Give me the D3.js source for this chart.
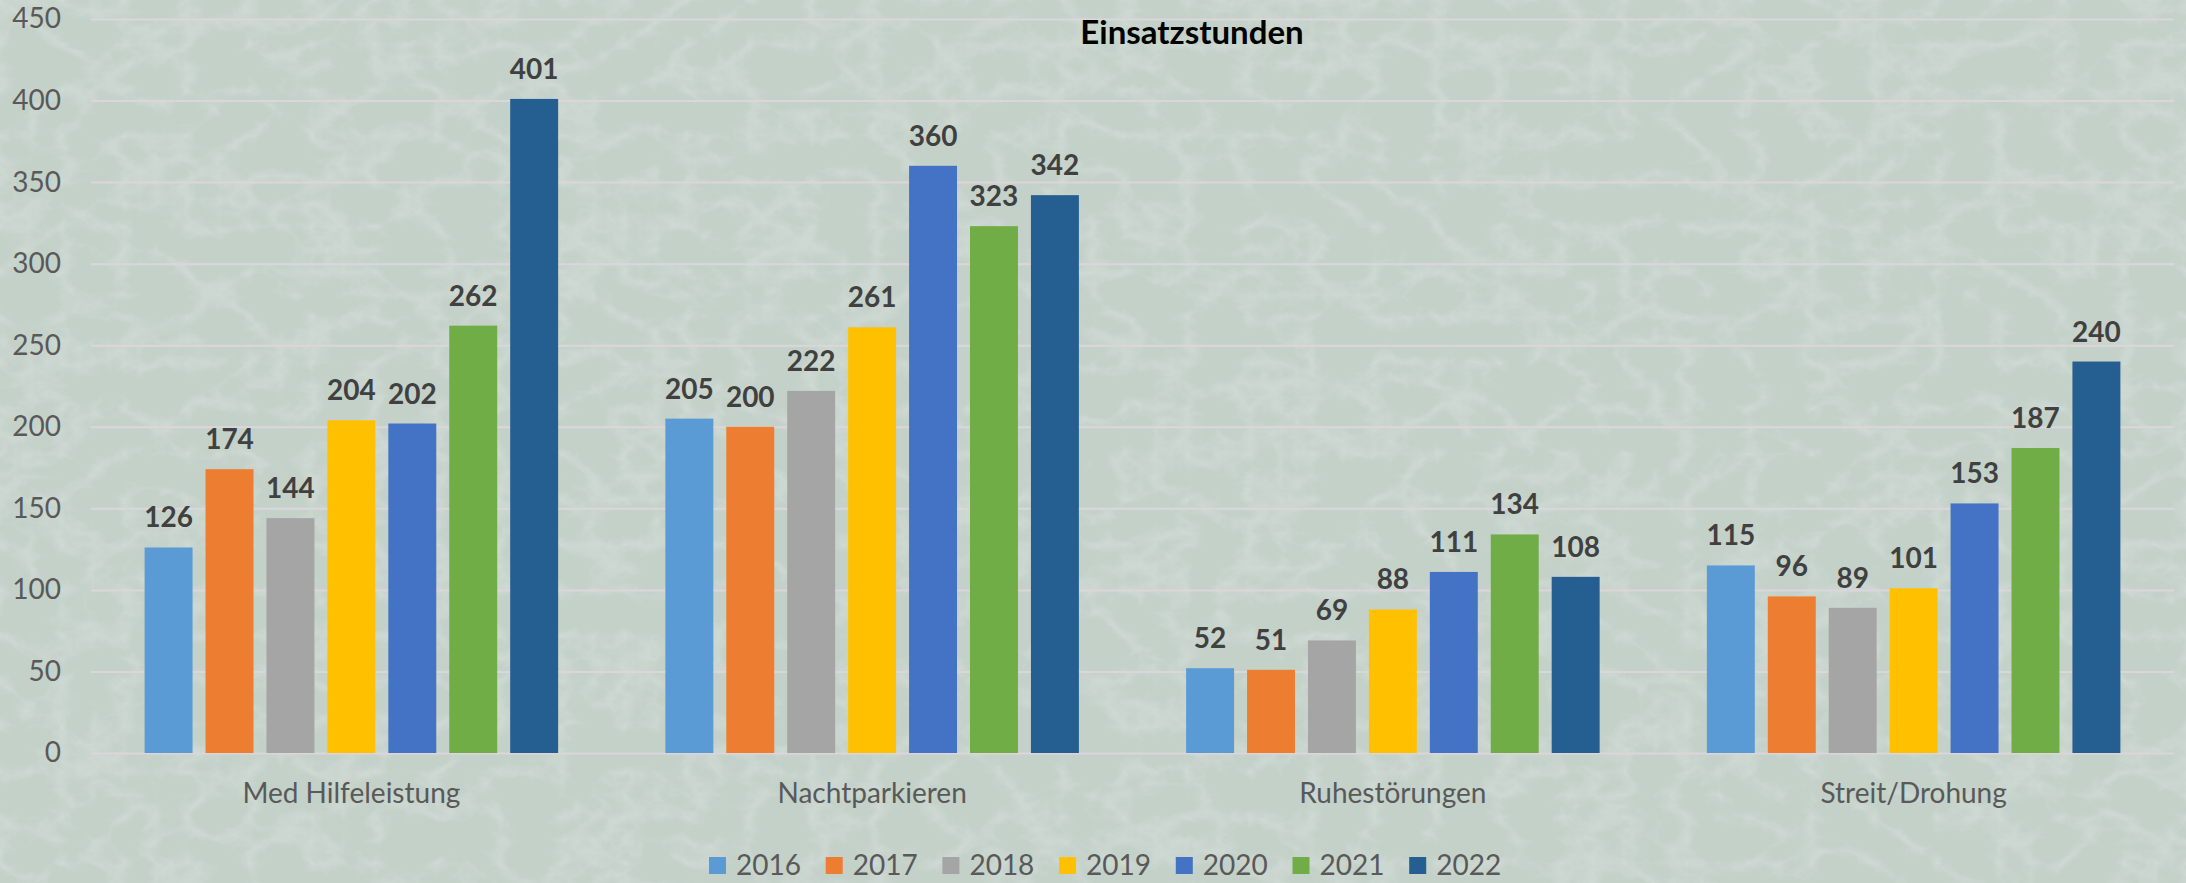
<!DOCTYPE html>
<html>
<head>
<meta charset="utf-8">
<script src="https://cdn.jsdelivr.net/npm/d3@7"></script>
<style>
    body { margin: 0; background: #c9d6ce; }
    #chart-area { width: 2186px; height: 883px; overflow: hidden; }
    text { font-family: Lato, "Open Sans", sans-serif; }
</style>
</head>
<body>
<div id="chart-area"></div>
<script>
var categories = ["Med Hilfeleistung", "Nachtparkieren", "Ruhestörungen", "Streit/Drohung"];
var years = ["2016", "2017", "2018", "2019", "2020", "2021", "2022"];
var yTicks = [0, 50, 100, 150, 200, 250, 300, 350, 400, 450];

// one array per year, same order as categories
var v2016 = [126, 205, 52, 115];
var v2017 = [174, 200, 51, 96];
var v2018 = [144, 222, 69, 89];
var v2019 = [204, 261, 88, 101];
var v2020 = [202, 360, 111, 153];
var v2021 = [262, 323, 134, 187];
var v2022 = [401, 342, 108, 240];

var colors = ["#5b9bd5", "#ed7d31", "#a5a5a5", "#ffc000", "#4472c4", "#70ad47", "#255e91"];

BarChart = function(_parentElement, _title){
    this.parentElement = _parentElement;
    this.title = _title;
    this.series = [v2016, v2017, v2018, v2019, v2020, v2021, v2022];
    this.initVis();
};

BarChart.prototype.initVis = function(){
    var vis = this;

    vis.width = 2186;
    vis.height = 883;

    vis.svg = d3.select(vis.parentElement)
        .append("svg")
        .attr("width", vis.width)
        .attr("height", vis.height);

    // marble-ish background
    var defs = vis.svg.append("defs");
    var f = defs.append("filter").attr("id", "marble")
        .attr("x", 0).attr("y", 0).attr("width", "100%").attr("height", "100%");
    f.append("feTurbulence")
        .attr("type", "turbulence")
        .attr("baseFrequency", "0.016 0.022")
        .attr("numOctaves", 5)
        .attr("seed", 3);
    f.append("feColorMatrix")
        .attr("type", "matrix")
        .attr("values", "0 0 0 0 0.88  0 0 0 0 0.93  0 0 0 0 0.90  -2.0 0 0 0 0.7");

    vis.svg.append("rect")
        .attr("width", vis.width).attr("height", vis.height)
        .attr("fill", "#c4d1c9");
    vis.svg.append("rect")
        .attr("width", vis.width).attr("height", vis.height)
        .attr("filter", "url(#marble)")
        .attr("opacity", 0.35);

    vis.plot = { left: 91, right: 2174, top: 19, bottom: 753 };

    // Scales
    vis.y = d3.scaleLinear().domain([0, 450]).range([vis.plot.bottom, vis.plot.top]);
    vis.x0 = d3.scaleBand().domain(categories).range([vis.plot.left, vis.plot.right]).padding(0);
    vis.x1 = d3.scaleBand().domain(years).range([0, vis.x0.bandwidth()])
        .paddingInner(0.213).paddingOuter(0.88);

    // Gridlines + y labels
    vis.yAxisCall = d3.axisLeft(vis.y)
        .tickValues(yTicks)
        .tickSize(-(vis.plot.right - vis.plot.left))
        .tickPadding(30);
    vis.yAxis = vis.svg.append("g")
        .attr("class", "y axis")
        .attr("transform", "translate(" + vis.plot.left + ",0)")
        .call(vis.yAxisCall);
    vis.yAxis.select(".domain").remove();
    vis.yAxis.selectAll("line").attr("stroke", "#dcd6dc").attr("stroke-width", 2);
    vis.yAxis.selectAll("text")
        .attr("fill", "#595959")
        .attr("font-size", "28px")
        .attr("font-family", "Lato");

    // Category labels
    vis.xAxisCall = d3.axisBottom(vis.x0).tickSize(0).tickPadding(30);
    vis.xAxis = vis.svg.append("g")
        .attr("class", "x axis")
        .attr("transform", "translate(0," + vis.plot.bottom + ")")
        .call(vis.xAxisCall);
    vis.xAxis.select(".domain").remove();
    vis.xAxis.selectAll("text")
        .attr("fill", "#595959")
        .attr("font-size", "28px")
        .attr("font-family", "Lato");

    // Title
    vis.svg.append("text")
        .attr("x", 1192)
        .attr("y", 44)
        .attr("text-anchor", "middle")
        .attr("font-size", "33px")
        .attr("font-weight", "bold")
        .attr("fill", "#000")
        .text(vis.title);

    vis.update();
    vis.drawLegend();
};

BarChart.prototype.update = function(){
    var vis = this;

    var groups = vis.svg.selectAll(".year")
        .data(vis.series)
        .enter().append("g")
        .attr("class", "year")
        .attr("fill", function(d, i){ return colors[i]; });

    groups.each(function(vals, i){
        var g = d3.select(this);
        var yr = years[i];

        g.selectAll("rect")
            .data(vals)
            .enter().append("rect")
            .attr("x", function(d, j){ return vis.x0(categories[j]) + vis.x1(yr); })
            .attr("y", function(d){ return vis.y(d); })
            .attr("width", vis.x1.bandwidth())
            .attr("height", function(d){ return vis.y(0) - vis.y(d); });

        g.selectAll("text")
            .data(vals)
            .enter().append("text")
            .attr("x", function(d, j){ return vis.x0(categories[j]) + vis.x1(yr) + vis.x1.bandwidth() / 2; })
            .attr("y", function(d){ return vis.y(d) - 20; })
            .attr("text-anchor", "middle")
            .attr("font-size", "28px")
            .attr("font-weight", "bold")
            .attr("fill", "#404040")
            .text(function(d){ return d; });
    });
};

BarChart.prototype.drawLegend = function(){
    var vis = this;
    var legend = vis.svg.append("g").attr("class", "legend");

    var item = legend.selectAll(".item")
        .data(years)
        .enter().append("g")
        .attr("class", "item")
        .attr("transform", function(d, i){ return "translate(" + (709 + i * 116.7) + ",857)"; });

    item.append("rect")
        .attr("width", 17)
        .attr("height", 17)
        .attr("fill", function(d, i){ return colors[i]; });

    item.append("text")
        .attr("x", 27)
        .attr("y", 18)
        .attr("font-size", "28px")
        .attr("fill", "#595959")
        .text(function(d){ return d; });
};

var chart = new BarChart("#chart-area", "Einsatzstunden");
</script>
</body>
</html>
